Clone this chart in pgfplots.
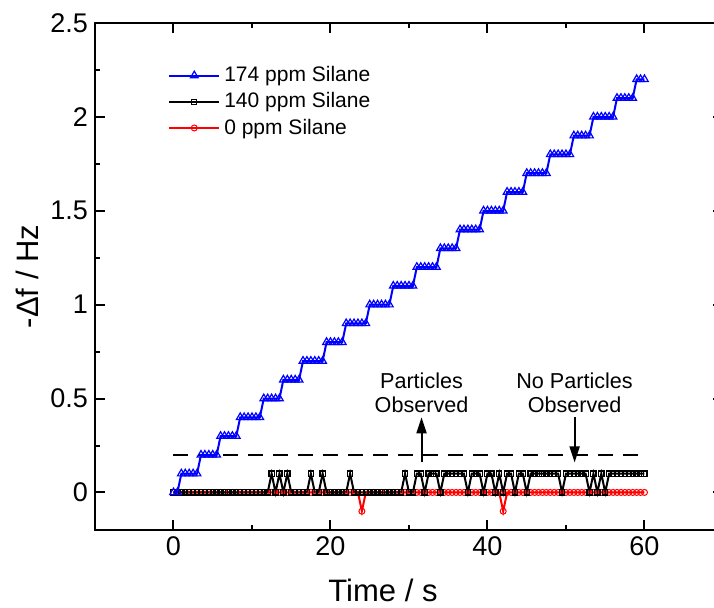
\documentclass[border=0pt]{standalone}
\usepackage{fontspec}
\setmainfont{Liberation Sans}
\usepackage{pgfplots}
\pgfplotsset{compat=1.18}
\usetikzlibrary{arrows.meta}
\definecolor{pblue}{RGB}{0,0,255}
\definecolor{pred}{RGB}{255,0,0}
\begin{document}
\begin{tikzpicture}
\begin{axis}[
  name=ax,
  scale only axis,
  width=314pt, height=253.5pt,
  xmin=-10, xmax=70, ymin=-0.2, ymax=2.5,
  xtick={0,20,40,60}, xticklabels={0,20,40,60},
  minor xtick={10,30,50},
  ytick={0,0.5,1,1.5,2,2.5}, yticklabels={0,0.5,1,1.5,2,2.5},
  minor ytick={0.25,0.75,1.25,1.75,2.25},
  tick align=inside,
  major tick length=5pt, minor tick length=2.5pt,
  every tick/.style={line width=1pt, black},
  axis line style={line width=1pt},
  /pgf/number format/assume math mode=true,
  ticklabel style={font=\fontsize{13.5}{16}\selectfont},
  xlabel={Time / s}, ylabel={-Δf / Hz},
  label style={font=\fontsize{15.5}{18}\selectfont},
  xlabel style={at={(axis description cs:0.4586,-0.12)}, anchor=center},
  ylabel style={at={(axis description cs:-0.108,0.5)}, anchor=center},
  reverse legend,
  legend cell align=left,
  legend style={at={(axis description cs:0.116,0.923)}, anchor=north west,
    draw=none, fill=none, font=\fontsize{10.5}{12}\selectfont,
    row sep=0pt, inner sep=0pt},
  legend image code/.code={\draw[mark repeat=2,mark phase=2] plot coordinates {(0cm,0cm) (0.44cm,0cm) (0.88cm,0cm)};},
]
% dashed threshold line
\addplot[black, line width=1.3pt, dash pattern=on 7.5pt off 5pt, forget plot] coordinates {(0,0.2) (60,0.2)};

% 0 ppm Silane
\addplot[pred, line width=1pt, mark=o, mark size=1.5pt, mark options={line width=0.5pt, solid}] coordinates {
(0,0)(0.5,0)(1,0)(1.5,0)(2,0)(2.5,0)(3,0)(3.5,0)(4,0)(4.5,0)
(5,0)(5.5,0)(6,0)(6.5,0)(7,0)(7.5,0)(8,0)(8.5,0)(9,0)(9.5,0)
(10,0)(10.5,0)(11,0)(11.5,0)(12,0)(12.5,0)(13,0)(13.5,0)(14,0)(14.5,0)
(15,0)(15.5,0)(16,0)(16.5,0)(17,0)(17.5,0)(18,0)(18.5,0)(19,0)(19.5,0)
(20,0)(20.5,0)(21,0)(21.5,0)(22,0)(22.5,0)(23,0)(23.5,0)(24,-0.1)(24.5,0)
(25,0)(25.5,0)(26,0)(26.5,0)(27,0)(27.5,0)(28,0)(28.5,0)(29,0)(29.5,0)
(30,0)(30.5,0)(31,0)(31.5,0)(32,0)(32.5,0)(33,0)(33.5,0)(34,0)(34.5,0)
(35,0)(35.5,0)(36,0)(36.5,0)(37,0)(37.5,0)(38,0)(38.5,0)(39,0)(39.5,0)
(40,0)(40.5,0)(41,0)(41.5,0)(42,-0.1)(42.5,0)(43,0)(43.5,0)(44,0)(44.5,0)
(45,0)(45.5,0)(46,0)(46.5,0)(47,0)(47.5,0)(48,0)(48.5,0)(49,0)(49.5,0)
(50,0)(50.5,0)(51,0)(51.5,0)(52,0)(52.5,0)(53,0)(53.5,0)(54,0)(54.5,0)
(55,0)(55.5,0)(56,0)(56.5,0)(57,0)(57.5,0)(58,0)(58.5,0)(59,0)(59.5,0)
(60,0)};
\addlegendentry{0 ppm Silane}

% 140 ppm Silane
\addplot[black, line width=1pt, mark=square, mark size=1.3pt, mark options={line width=0.6pt, solid, fill=gray!40}] coordinates {
(0,0)(0.5,0)(1,0)(1.5,0)(2,0)(2.5,0)(3,0)(3.5,0)(4,0)(4.5,0)
(5,0)(5.5,0)(6,0)(6.5,0)(7,0)(7.5,0)(8,0)(8.5,0)(9,0)(9.5,0)
(10,0)(10.5,0)(11,0)(11.5,0)(12,0)(12.5,0.1)(13,0)(13.5,0.1)(14,0)(14.5,0.1)
(15,0)(15.5,0)(16,0)(16.5,0)(17,0)(17.5,0.1)(18,0)(18.5,0)(19,0.1)(19.5,0)
(20,0)(20.5,0)(21,0)(21.5,0)(22,0)(22.5,0.1)(23,0)(23.5,0)(24,0)(24.5,0)
(25,0)(25.5,0)(26,0)(26.5,0)(27,0)(27.5,0)(28,0)(28.5,0)(29,0)(29.5,0.1)
(30,0)(30.5,0)(31,0.1)(31.5,0.1)(32,0)(32.5,0.1)(33,0.1)(33.5,0.1)(34,0)(34.5,0.1)
(35,0.1)(35.5,0.1)(36,0.1)(36.5,0.1)(37,0.1)(37.5,0)(38,0.1)(38.5,0.1)(39,0.1)(39.5,0)
(40,0.1)(40.5,0.1)(41,0)(41.5,0.1)(42,0)(42.5,0.1)(43,0.1)(43.5,0)(44,0.1)(44.5,0.1)
(45,0)(45.5,0.1)(46,0.1)(46.5,0.1)(47,0.1)(47.5,0.1)(48,0.1)(48.5,0.1)(49,0.1)(49.5,0)
(50,0.1)(50.5,0.1)(51,0.1)(51.5,0.1)(52,0.1)(52.5,0.1)(53,0)(53.5,0.1)(54,0)(54.5,0.1)
(55,0)(55.5,0.1)(56,0.1)(56.5,0.1)(57,0.1)(57.5,0.1)(58,0.1)(58.5,0.1)(59,0.1)(59.5,0.1)
(60,0.1)};
\addlegendentry{140 ppm Silane}

% 174 ppm Silane
\addplot[pblue, line width=1pt, mark=triangle, mark size=2.2pt, mark options={line width=0.6pt, solid}] coordinates {
(0,0)(0.5,0)(1,0.1)(1.5,0.1)(2,0.1)(2.5,0.1)(3,0.1)(3.5,0.2)(4,0.2)(4.5,0.2)
(5,0.2)(5.5,0.2)(6,0.3)(6.5,0.3)(7,0.3)(7.5,0.3)(8,0.3)(8.5,0.4)(9,0.4)(9.5,0.4)
(10,0.4)(10.5,0.4)(11,0.4)(11.5,0.5)(12,0.5)(12.5,0.5)(13,0.5)(13.5,0.5)(14,0.6)(14.5,0.6)
(15,0.6)(15.5,0.6)(16,0.6)(16.5,0.7)(17,0.7)(17.5,0.7)(18,0.7)(18.5,0.7)(19,0.7)(19.5,0.8)
(20,0.8)(20.5,0.8)(21,0.8)(21.5,0.8)(22,0.9)(22.5,0.9)(23,0.9)(23.5,0.9)(24,0.9)(24.5,0.9)
(25,1.0)(25.5,1.0)(26,1.0)(26.5,1.0)(27,1.0)(27.5,1.0)(28,1.1)(28.5,1.1)(29,1.1)(29.5,1.1)
(30,1.1)(30.5,1.1)(31,1.2)(31.5,1.2)(32,1.2)(32.5,1.2)(33,1.2)(33.5,1.2)(34,1.3)(34.5,1.3)
(35,1.3)(35.5,1.3)(36,1.3)(36.5,1.4)(37,1.4)(37.5,1.4)(38,1.4)(38.5,1.4)(39,1.4)(39.5,1.5)
(40,1.5)(40.5,1.5)(41,1.5)(41.5,1.5)(42,1.5)(42.5,1.6)(43,1.6)(43.5,1.6)(44,1.6)(44.5,1.6)
(45,1.7)(45.5,1.7)(46,1.7)(46.5,1.7)(47,1.7)(47.5,1.7)(48,1.8)(48.5,1.8)(49,1.8)(49.5,1.8)
(50,1.8)(50.5,1.8)(51,1.9)(51.5,1.9)(52,1.9)(52.5,1.9)(53,1.9)(53.5,2.0)(54,2.0)(54.5,2.0)
(55,2.0)(55.5,2.0)(56,2.0)(56.5,2.1)(57,2.1)(57.5,2.1)(58,2.1)(58.5,2.1)(59,2.2)(59.5,2.2)
(60,2.2)};
\addlegendentry{174 ppm Silane}

\node[align=center, font=\fontsize{10.8}{12}\selectfont] at (axis cs:31.6,0.533) {Particles\\Observed};
\node[align=center, font=\fontsize{10.8}{12}\selectfont] at (axis cs:51.1,0.533) {No Particles\\Observed};
\draw[line width=1pt, -{Triangle[length=8pt,width=5pt]}] (axis cs:31.6,0.16) -- (axis cs:31.6,0.40);
\draw[line width=1pt, -{Triangle[length=8pt,width=5pt]}] (axis cs:51.1,0.40) -- (axis cs:51.1,0.16);
\end{axis}
\pgfresetboundingbox
\path[use as bounding box] ([shift={(-47.5pt,-38.5pt)}]ax.south west) rectangle ([shift={(309.5pt,11.5pt)}]ax.north west);
\end{tikzpicture}
\end{document}
